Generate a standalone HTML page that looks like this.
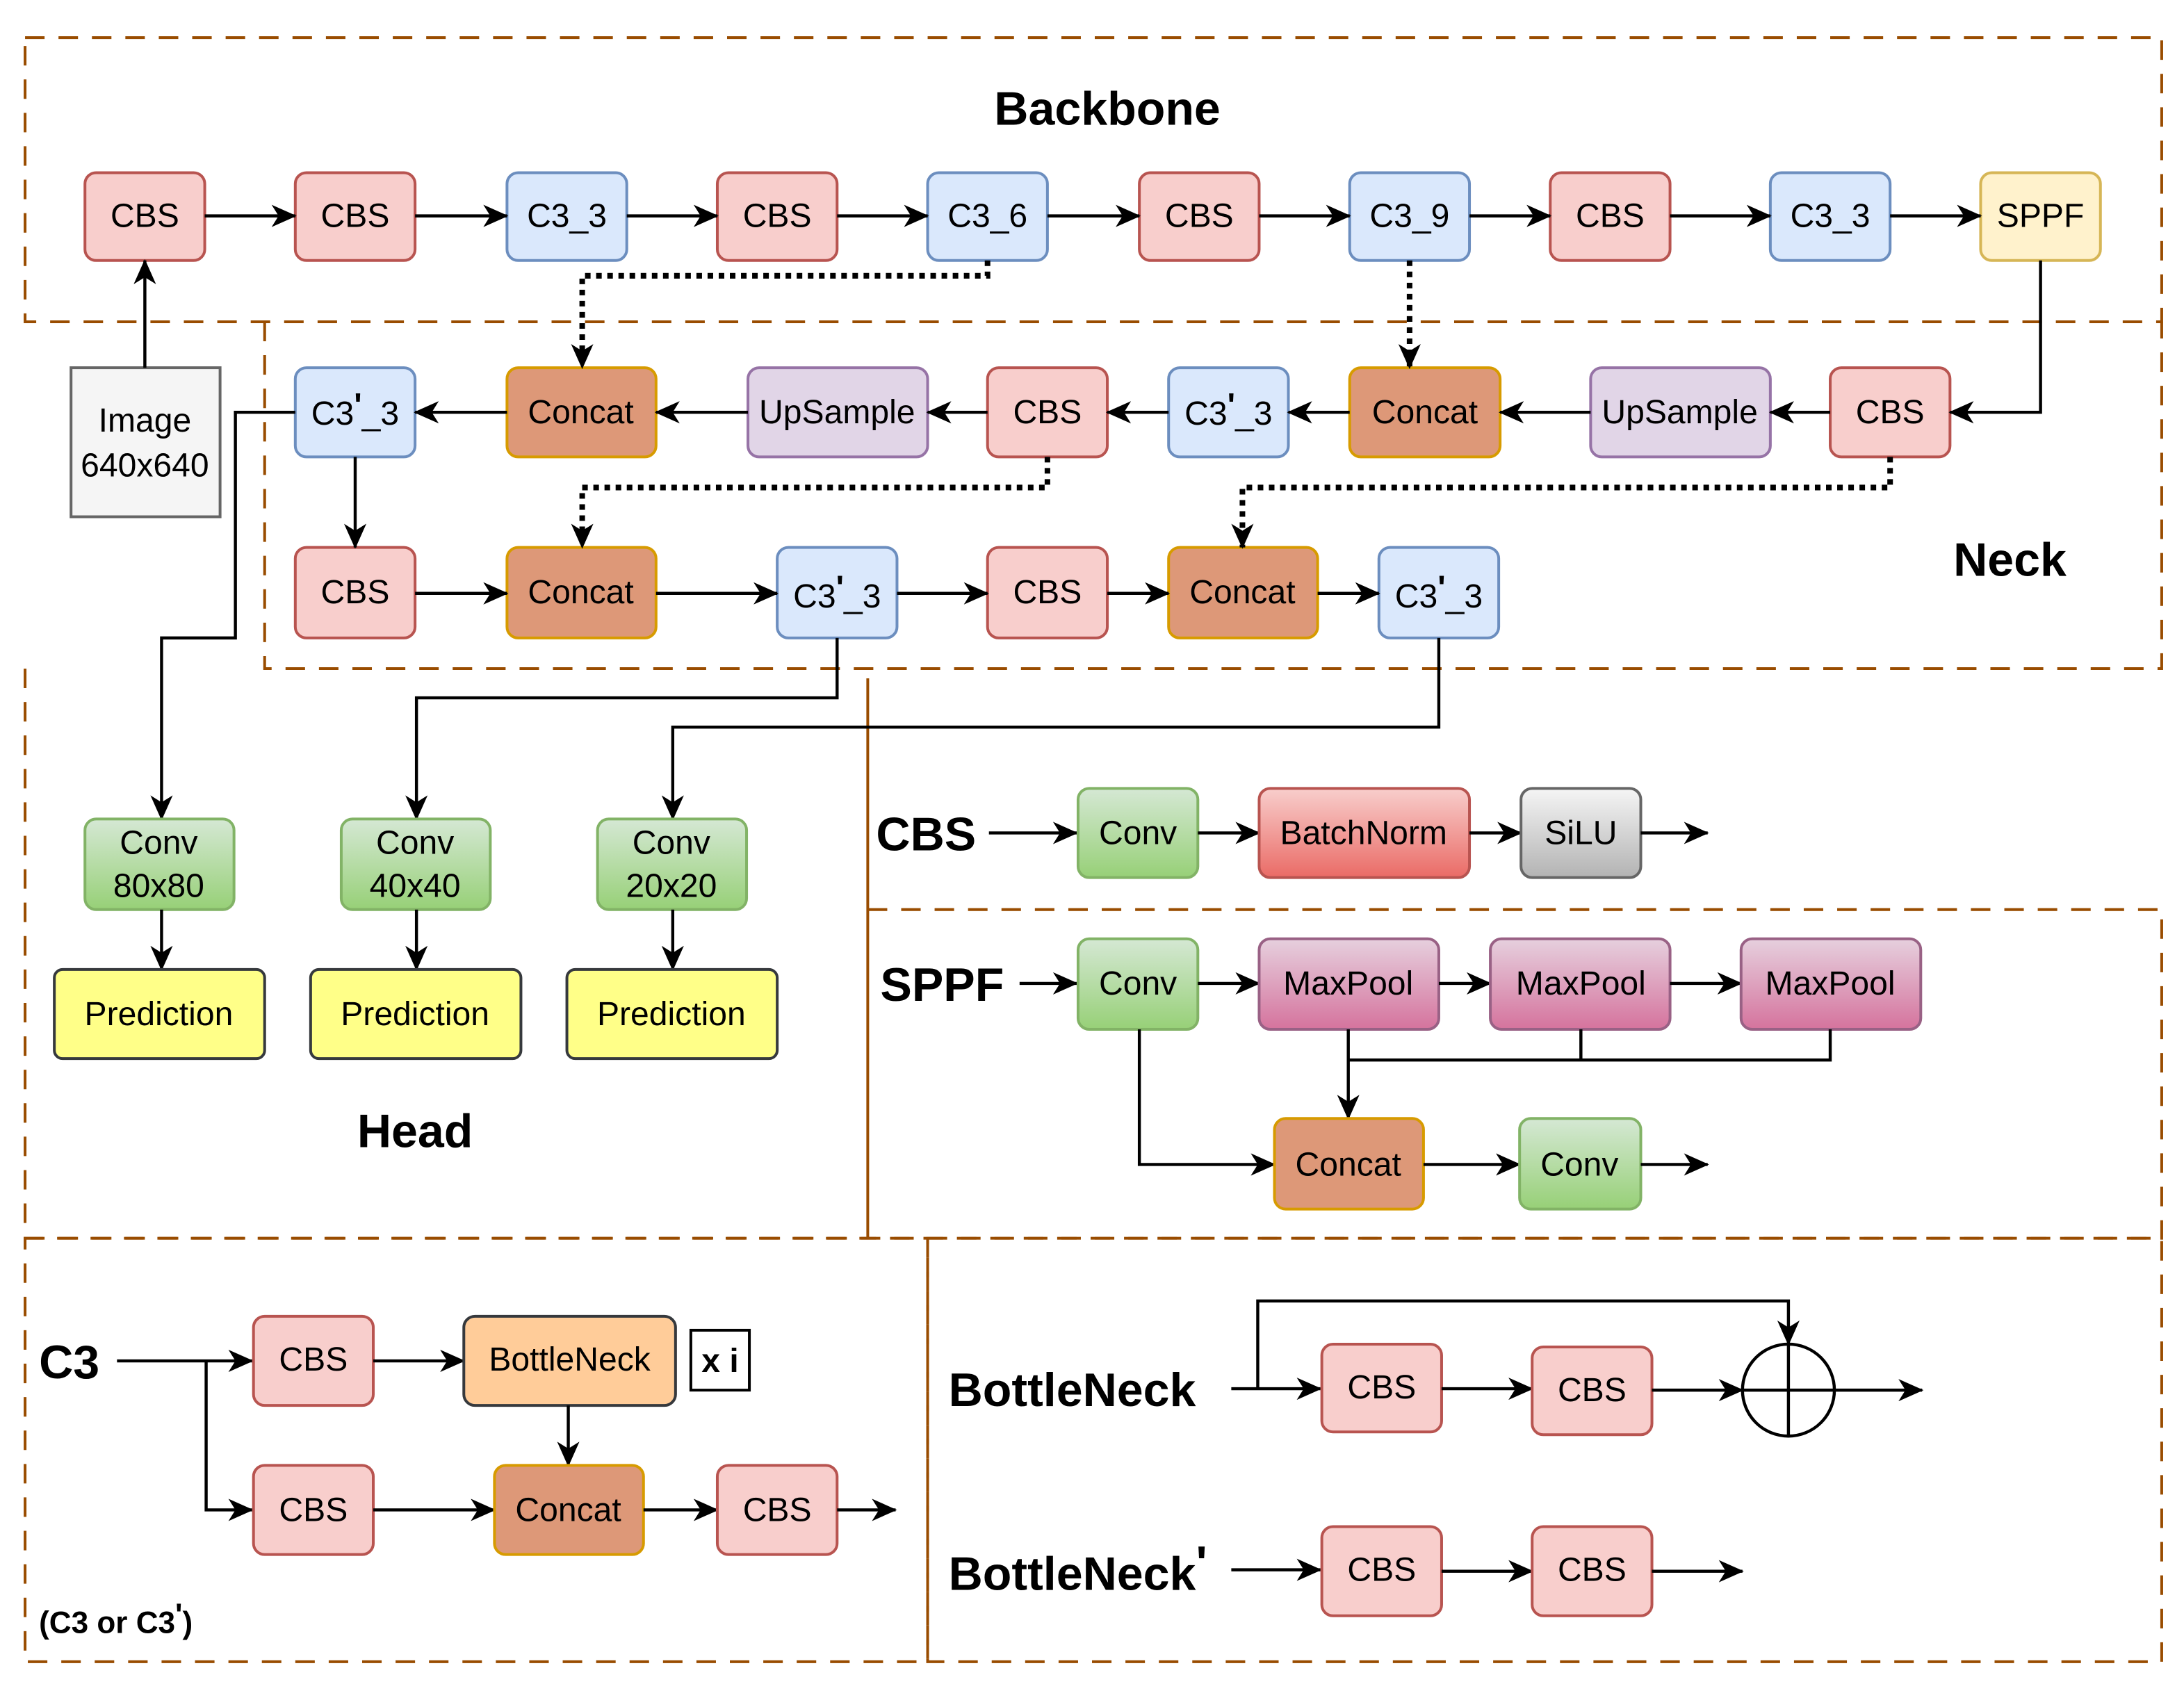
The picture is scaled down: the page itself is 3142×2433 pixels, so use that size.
<!DOCTYPE html>
<html><head><meta charset="utf-8"><style>
html,body{margin:0;padding:0;background:#fff;}
svg{display:block;}
text{font-family:"Liberation Sans",Arial,sans-serif;}
.t{font-size:24px;text-anchor:middle;dominant-baseline:central;fill:#000;}
.b{font-size:34px;font-weight:bold;fill:#000;dominant-baseline:central;}
.ln{stroke:#000;stroke-width:2.2;fill:none;}
.dt{stroke:#000;stroke-width:4;fill:none;stroke-dasharray:4 4;}
.dash{stroke:#994c00;stroke-width:2;fill:none;stroke-dasharray:14 10;}
.cbs{fill:#f8cecc;stroke:#b85450;stroke-width:2;}
.c3{fill:#dae8fc;stroke:#6c8ebf;stroke-width:2;}
.cc{fill:#dd9878;stroke:#d79b00;stroke-width:2;}
.up{fill:#e1d5e7;stroke:#9673a6;stroke-width:2;}
.pr{fill:#ffff88;stroke:#36393d;stroke-width:2;}
</style></head><body>
<svg width="3142" height="2433" viewBox="0 0 1568 1214" preserveAspectRatio="none" xmlns="http://www.w3.org/2000/svg">
<defs>
<marker id="a" markerUnits="userSpaceOnUse" markerWidth="18" markerHeight="16" refX="17" refY="8" orient="auto"><path d="M0,0 L18,8 L0,16 L5,8 z" fill="#000"/></marker>
<linearGradient id="gG" x1="0" y1="0" x2="0" y2="1"><stop offset="0" stop-color="#d5e8d4"/><stop offset="1" stop-color="#97d077"/></linearGradient>
<linearGradient id="gR" x1="0" y1="0" x2="0" y2="1"><stop offset="0" stop-color="#f8cecc"/><stop offset="1" stop-color="#ea6b66"/></linearGradient>
<linearGradient id="gS" x1="0" y1="0" x2="0" y2="1"><stop offset="0" stop-color="#f5f5f5"/><stop offset="1" stop-color="#b3b3b3"/></linearGradient>
<linearGradient id="gM" x1="0" y1="0" x2="0" y2="1"><stop offset="0" stop-color="#e6d0de"/><stop offset="1" stop-color="#d5739d"/></linearGradient>
</defs>
<rect width="1568" height="1214" fill="#fff"/>
<rect class="dash" x="18" y="27" width="1534" height="204"/>
<path class="dash" d="M190,231 V480 H1552 V231"/>
<path class="dash" d="M18,480 V889 H623"/>
<path d="M623,487 V889" stroke="#994c00" stroke-width="2"/>
<path class="dash" d="M623,653 H1552 V889 H623"/>
<rect class="dash" x="18" y="889" width="648" height="304"/>
<rect class="dash" x="666" y="889" width="886" height="304"/>

<text class="b" x="795" y="78" text-anchor="middle">Backbone</text>
<text class="b" x="1443" y="402" text-anchor="middle">Neck</text>
<text class="b" x="298" y="812" text-anchor="middle">Head</text>

<g>
<rect class="cbs" x="61" y="124" width="86" height="63" rx="8"/><text class="t" x="104" y="155">CBS</text>
<rect class="cbs" x="212" y="124" width="86" height="63" rx="8"/><text class="t" x="255" y="155">CBS</text>
<rect class="c3" x="364" y="124" width="86" height="63" rx="8"/><text class="t" x="407" y="155">C3_3</text>
<rect class="cbs" x="515" y="124" width="86" height="63" rx="8"/><text class="t" x="558" y="155">CBS</text>
<rect class="c3" x="666" y="124" width="86" height="63" rx="8"/><text class="t" x="709" y="155">C3_6</text>
<rect class="cbs" x="818" y="124" width="86" height="63" rx="8"/><text class="t" x="861" y="155">CBS</text>
<rect class="c3" x="969" y="124" width="86" height="63" rx="8"/><text class="t" x="1012" y="155">C3_9</text>
<rect class="cbs" x="1113" y="124" width="86" height="63" rx="8"/><text class="t" x="1156" y="155">CBS</text>
<rect class="c3" x="1271" y="124" width="86" height="63" rx="8"/><text class="t" x="1314" y="155">C3_3</text>
<rect fill="#fff2cc" stroke="#d6b656" stroke-width="2" x="1422" y="124" width="86" height="63" rx="8"/><text class="t" x="1465" y="155">SPPF</text>
</g>
<path class="ln" marker-end="url(#a)" d="M147,155 H212"/>
<path class="ln" marker-end="url(#a)" d="M298,155 H364"/>
<path class="ln" marker-end="url(#a)" d="M450,155 H515"/>
<path class="ln" marker-end="url(#a)" d="M601,155 H666"/>
<path class="ln" marker-end="url(#a)" d="M752,155 H818"/>
<path class="ln" marker-end="url(#a)" d="M904,155 H969"/>
<path class="ln" marker-end="url(#a)" d="M1055,155 H1113"/>
<path class="ln" marker-end="url(#a)" d="M1199,155 H1271"/>
<path class="ln" marker-end="url(#a)" d="M1357,155 H1422"/>

<rect fill="#f5f5f5" stroke="#666" stroke-width="2" x="51" y="264" width="107" height="107"/>
<text class="t" x="104" y="302">Image</text><text class="t" x="104" y="334">640x640</text>
<path class="ln" marker-end="url(#a)" d="M104,264 V187"/>

<rect class="c3" x="212" y="264" width="86" height="64" rx="8"/><text class="t" x="255" y="297">C3<tspan font-weight="bold" dy="-6">'</tspan><tspan dy="6">_3</tspan></text>
<rect class="cc" x="364" y="264" width="107" height="64" rx="8"/><text class="t" x="417" y="296">Concat</text>
<rect class="up" x="537" y="264" width="129" height="64" rx="8"/><text class="t" x="601" y="296">UpSample</text>
<rect class="cbs" x="709" y="264" width="86" height="64" rx="8"/><text class="t" x="752" y="296">CBS</text>
<rect class="c3" x="839" y="264" width="86" height="64" rx="8"/><text class="t" x="882" y="297">C3<tspan font-weight="bold" dy="-6">'</tspan><tspan dy="6">_3</tspan></text>
<rect class="cc" x="969" y="264" width="108" height="64" rx="8"/><text class="t" x="1023" y="296">Concat</text>
<rect class="up" x="1142" y="264" width="129" height="64" rx="8"/><text class="t" x="1206" y="296">UpSample</text>
<rect class="cbs" x="1314" y="264" width="86" height="64" rx="8"/><text class="t" x="1357" y="296">CBS</text>
<path class="ln" marker-end="url(#a)" d="M1465,187 V296 H1400"/>
<path class="ln" marker-end="url(#a)" d="M1314,296 H1271"/>
<path class="ln" marker-end="url(#a)" d="M1142,296 H1077"/>
<path class="ln" marker-end="url(#a)" d="M969,296 H925"/>
<path class="ln" marker-end="url(#a)" d="M839,296 H795"/>
<path class="ln" marker-end="url(#a)" d="M709,296 H666"/>
<path class="ln" marker-end="url(#a)" d="M537,296 H471"/>
<path class="ln" marker-end="url(#a)" d="M364,296 H298"/>
<path class="dt" marker-end="url(#a)" d="M709,187 V198 H418 V264"/>
<path class="dt" marker-end="url(#a)" d="M1012,187 V264"/>

<rect class="cbs" x="212" y="393" width="86" height="65" rx="8"/><text class="t" x="255" y="425">CBS</text>
<rect class="cc" x="364" y="393" width="107" height="65" rx="8"/><text class="t" x="417" y="425">Concat</text>
<rect class="c3" x="558" y="393" width="86" height="65" rx="8"/><text class="t" x="601" y="428">C3<tspan font-weight="bold" dy="-6">'</tspan><tspan dy="6">_3</tspan></text>
<rect class="cbs" x="709" y="393" width="86" height="65" rx="8"/><text class="t" x="752" y="425">CBS</text>
<rect class="cc" x="839" y="393" width="107" height="65" rx="8"/><text class="t" x="892" y="425">Concat</text>
<rect class="c3" x="990" y="393" width="86" height="65" rx="8"/><text class="t" x="1033" y="428">C3<tspan font-weight="bold" dy="-6">'</tspan><tspan dy="6">_3</tspan></text>
<path class="ln" marker-end="url(#a)" d="M255,328 V393"/>
<path class="ln" marker-end="url(#a)" d="M298,426 H364"/>
<path class="ln" marker-end="url(#a)" d="M471,426 H558"/>
<path class="ln" marker-end="url(#a)" d="M644,426 H709"/>
<path class="ln" marker-end="url(#a)" d="M795,426 H839"/>
<path class="ln" marker-end="url(#a)" d="M946,426 H990"/>
<path class="dt" marker-end="url(#a)" d="M752,328 V350 H418 V393"/>
<path class="dt" marker-end="url(#a)" d="M1357,328 V350 H892 V393"/>

<path class="ln" marker-end="url(#a)" d="M212,296 H169 V458 H116 V588"/>
<path class="ln" marker-end="url(#a)" d="M601,458 V501 H299 V588"/>
<path class="ln" marker-end="url(#a)" d="M1033,458 V522 H483 V588"/>
<rect fill="url(#gG)" stroke="#82b366" stroke-width="2" x="61" y="588" width="107" height="65" rx="8"/><text class="t" x="114" y="605">Conv</text><text class="t" x="114" y="636">80x80</text>
<rect fill="url(#gG)" stroke="#82b366" stroke-width="2" x="245" y="588" width="107" height="65" rx="8"/><text class="t" x="298" y="605">Conv</text><text class="t" x="298" y="636">40x40</text>
<rect fill="url(#gG)" stroke="#82b366" stroke-width="2" x="429" y="588" width="107" height="65" rx="8"/><text class="t" x="482" y="605">Conv</text><text class="t" x="482" y="636">20x20</text>
<path class="ln" marker-end="url(#a)" d="M116,653 V696"/>
<path class="ln" marker-end="url(#a)" d="M299,653 V696"/>
<path class="ln" marker-end="url(#a)" d="M483,653 V696"/>
<rect class="pr" x="39" y="696" width="151" height="64" rx="6"/><text class="t" x="114" y="728">Prediction</text>
<rect class="pr" x="223" y="696" width="151" height="64" rx="6"/><text class="t" x="298" y="728">Prediction</text>
<rect class="pr" x="407" y="696" width="151" height="64" rx="6"/><text class="t" x="482" y="728">Prediction</text>

<text class="b" x="629" y="599">CBS</text>
<path class="ln" marker-end="url(#a)" d="M710,598 H773"/>
<rect fill="url(#gG)" stroke="#82b366" stroke-width="2" x="774" y="566" width="86" height="64" rx="8"/><text class="t" x="817" y="598">Conv</text>
<path class="ln" marker-end="url(#a)" d="M860,598 H904"/>
<rect fill="url(#gR)" stroke="#b85450" stroke-width="2" x="904" y="566" width="151" height="64" rx="8"/><text class="t" x="979" y="598">BatchNorm</text>
<path class="ln" marker-end="url(#a)" d="M1055,598 H1092"/>
<rect fill="url(#gS)" stroke="#666" stroke-width="2" x="1092" y="566" width="86" height="64" rx="8"/><text class="t" x="1135" y="598">SiLU</text>
<path class="ln" marker-end="url(#a)" d="M1178,598 H1226"/>

<text class="b" x="632" y="707">SPPF</text>
<path class="ln" marker-end="url(#a)" d="M732,706 H773"/>
<rect fill="url(#gG)" stroke="#82b366" stroke-width="2" x="774" y="674" width="86" height="65" rx="8"/><text class="t" x="817" y="706">Conv</text>
<path class="ln" marker-end="url(#a)" d="M860,706 H904"/>
<rect fill="url(#gM)" stroke="#996185" stroke-width="2" x="904" y="674" width="129" height="65" rx="8"/><text class="t" x="968" y="706">MaxPool</text>
<path class="ln" marker-end="url(#a)" d="M1033,706 H1070"/>
<rect fill="url(#gM)" stroke="#996185" stroke-width="2" x="1070" y="674" width="129" height="65" rx="8"/><text class="t" x="1135" y="706">MaxPool</text>
<path class="ln" marker-end="url(#a)" d="M1199,706 H1250"/>
<rect fill="url(#gM)" stroke="#996185" stroke-width="2" x="1250" y="674" width="129" height="65" rx="8"/><text class="t" x="1314" y="706">MaxPool</text>
<path class="ln" d="M1135,739 V761 M1314,739 V761 H968"/>
<path class="ln" marker-end="url(#a)" d="M968,739 V803"/>
<path class="ln" marker-end="url(#a)" d="M818,739 V836 H915"/>
<rect class="cc" x="915" y="803" width="107" height="65" rx="8"/><text class="t" x="968" y="836">Concat</text>
<path class="ln" marker-end="url(#a)" d="M1022,836 H1091"/>
<rect fill="url(#gG)" stroke="#82b366" stroke-width="2" x="1091" y="803" width="87" height="65" rx="8"/><text class="t" x="1134" y="836">Conv</text>
<path class="ln" marker-end="url(#a)" d="M1178,836 H1226"/>

<text class="b" x="28" y="978">C3</text>
<path class="ln" marker-end="url(#a)" d="M84,977 H181"/>
<path class="ln" marker-end="url(#a)" d="M148,977 V1084 H181"/>
<rect class="cbs" x="182" y="945" width="86" height="64" rx="8"/><text class="t" x="225" y="976">CBS</text>
<path class="ln" marker-end="url(#a)" d="M268,977 H333"/>
<rect fill="#ffcc99" stroke="#36393d" stroke-width="2" x="333" y="945" width="152" height="64" rx="8"/><text class="t" x="409" y="976">BottleNeck</text>
<rect fill="#fff" stroke="#000" stroke-width="2" x="496" y="955" width="42" height="43"/><text class="t" x="517" y="977" font-weight="bold" font-size="28">x i</text>
<path class="ln" marker-end="url(#a)" d="M408,1009 V1052"/>
<rect class="cbs" x="182" y="1052" width="86" height="64" rx="8"/><text class="t" x="225" y="1084">CBS</text>
<path class="ln" marker-end="url(#a)" d="M268,1084 H355"/>
<rect class="cc" x="355" y="1052" width="107" height="64" rx="8"/><text class="t" x="408" y="1084">Concat</text>
<path class="ln" marker-end="url(#a)" d="M462,1084 H515"/>
<rect class="cbs" x="515" y="1052" width="86" height="64" rx="8"/><text class="t" x="558" y="1084">CBS</text>
<path class="ln" marker-end="url(#a)" d="M601,1084 H643"/>
<text x="28" y="1165" font-size="22" font-weight="bold" dominant-baseline="central">(C3 or C3<tspan dy="-6">'</tspan><tspan dy="6">)</tspan></text>

<text class="b" x="681" y="998">BottleNeck</text>
<path class="ln" marker-end="url(#a)" d="M884,997 H948"/>
<path class="ln" marker-end="url(#a)" d="M903,997 V934 H1284 V965"/>
<rect class="cbs" x="949" y="965" width="86" height="63" rx="8"/><text class="t" x="992" y="996">CBS</text>
<path class="ln" marker-end="url(#a)" d="M1035,997 H1100"/>
<rect class="cbs" x="1100" y="967" width="86" height="63" rx="8"/><text class="t" x="1143" y="998">CBS</text>
<path class="ln" marker-end="url(#a)" d="M1186,998 H1251"/>
<circle cx="1284" cy="998" r="33" fill="#fff" stroke="#000" stroke-width="2.2"/>
<path class="ln" d="M1251,998 H1317 M1284,965 V1031"/>
<path class="ln" marker-end="url(#a)" d="M1317,998 H1380"/>

<text class="b" x="681" y="1130">BottleNeck<tspan dy="-8">'</tspan></text>
<path class="ln" marker-end="url(#a)" d="M884,1127 H948"/>
<rect class="cbs" x="949" y="1096" width="86" height="64" rx="8"/><text class="t" x="992" y="1127">CBS</text>
<path class="ln" marker-end="url(#a)" d="M1035,1128 H1100"/>
<rect class="cbs" x="1100" y="1096" width="86" height="64" rx="8"/><text class="t" x="1143" y="1127">CBS</text>
<path class="ln" marker-end="url(#a)" d="M1186,1128 H1251"/>
</svg>
</body></html>
